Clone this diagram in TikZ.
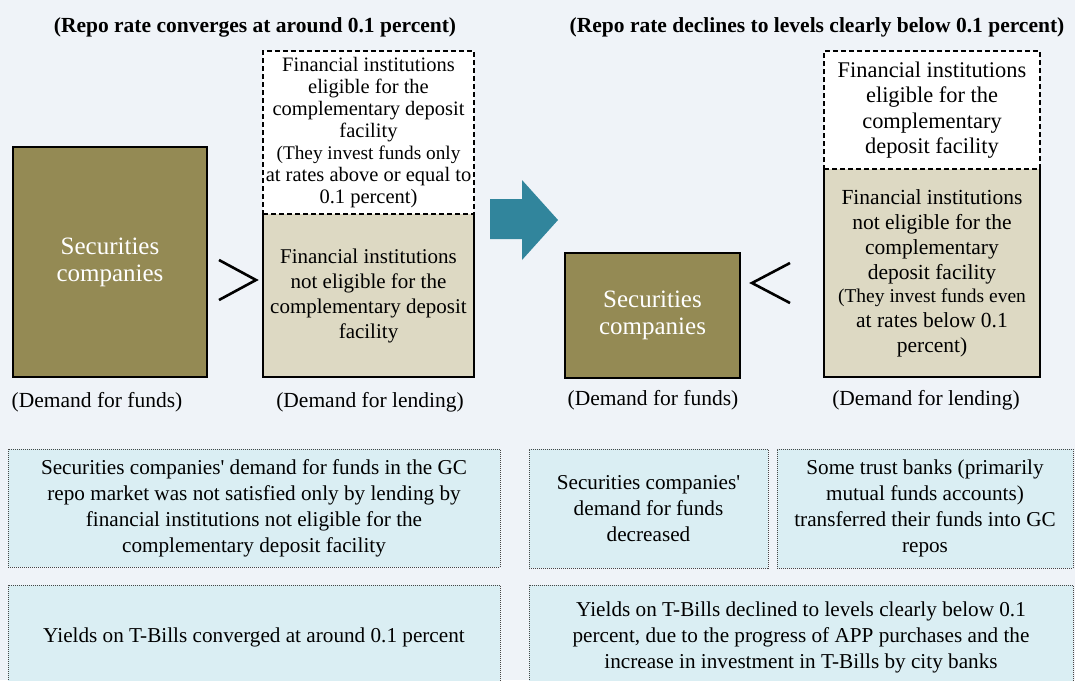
\documentclass[tikz,border=0pt]{standalone}
\usepackage{fontspec}
\setmainfont{Liberation Serif}
\definecolor{pagebg}{RGB}{239,243,248}
\definecolor{secolive}{RGB}{148,138,84}
\definecolor{lendbeige}{RGB}{221,217,195}
\definecolor{noteblue}{RGB}{218,238,243}
\definecolor{arrowteal}{RGB}{49,133,156}
\definecolor{dotgrey}{RGB}{70,70,70}
\usetikzlibrary{positioning}

\begin{document}
\begin{tikzpicture}[x=1pt, y=-1pt, line width=1.2pt, inner sep=0pt, outer sep=0pt,
    title/.style={font=\fontsize{21.5}{24}\selectfont\bfseries},
    secbox/.style={draw, fill=secolive, text=white, align=center, font=\fontsize{25}{27}\selectfont},
    lendbox/.style={fill=lendbeige, align=center, font=\fontsize{21}{25}\selectfont},
    eligbox/.style={draw, dash pattern=on 5pt off 3pt, fill=white, align=center},
    caption/.style={font=\fontsize{21.5}{24}\selectfont},
    notebox/.style={draw=dotgrey, line width=1pt, dash pattern=on 1pt off 1pt, fill=noteblue, align=center, font=\fontsize{21.2}{26}\selectfont},
    relsym/.style={line width=2.6pt}]
    \useasboundingbox (0,0) rectangle (1075,680);
    \fill[pagebg] (0,0) rectangle (1075,680);
    \clip (0,0) rectangle (1075,680);

    % left: before
    \node[title] (ltitle) at (255,27) {(Repo rate converges at around 0.1 percent)};

    \node[secbox, minimum width=194pt, minimum height=230pt] (lsec) at (110,262) {Securities\\companies};

    \node[lendbox, minimum width=211pt, minimum height=163pt] (llend) at (368.5,295.5) {Financial institutions\\not eligible  for the\\complementary deposit\\facility};
    \draw (llend.north west) -- (llend.south west) -- (llend.south east) -- (llend.north east);

    \node[eligbox, font=\fontsize{20.5}{22}\selectfont, minimum width=211pt, minimum height=163pt, above=0pt of llend] (lelig) {Financial institutions\\eligible  for the\\complementary deposit\\facility\\\fontsize{19.3}{22}\selectfont (They invest funds only\\at rates above or equal to\\0.1 percent)};

    \draw[relsym] (219,260) -- (256,280) -- (219,300);

    \node[caption] (lfunds) at (97,402) {(Demand for funds)};
    \node[caption] (llending) at (370,402) {(Demand for lending)};

    % arrow between the two cases
    \fill[arrowteal] (490,199) -- (522,199) -- (522,180) -- (558,220) -- (522,260) -- (522,239) -- (490,239) -- cycle;

    % right: after
    \node[title] (rtitle) at (817,27) {(Repo rate declines to levels clearly below 0.1 percent)};

    \node[secbox, minimum width=175pt, minimum height=125pt] (rsec) at (652.5,315.5) {Securities\\companies};

    \node[lendbox, font=\fontsize{21.5}{25}\selectfont, minimum width=216pt, minimum height=208pt] (rlend) at (932,273) {Financial institutions\\not eligible  for the\\complementary\\deposit facility\\[-2pt]\fontsize{19.5}{22}\selectfont (They invest funds even\\at rates below  0.1\\percent)};
    \draw (rlend.north west) -- (rlend.south west) -- (rlend.south east) -- (rlend.north east);

    \node[eligbox, font=\fontsize{22.4}{25.5}\selectfont, minimum width=216pt, minimum height=118pt, above=0pt of rlend] (relig) {Financial institutions\\eligible for the\\complementary\\deposit facility};

    \draw[relsym] (790,263) -- (752,283) -- (790,303);

    \node[caption] (rfunds) at (653,400) {(Demand for funds)};
    \node[caption] (rlending) at (926,400) {(Demand for lending)};

    % explanations
    \node[notebox, minimum width=492pt, minimum height=118pt] (lnote) at (254,508) {Securities companies\textquotesingle\ demand for funds in the GC\\repo market was not satisfied only by lending by\\financial institutions not eligible  for the\\complementary deposit facility};
    \node[notebox, minimum width=492pt, minimum height=104pt, below=18pt of lnote] (lyield) {Yields on T-Bills  converged at around 0.1 percent};

    \node[notebox, minimum width=239pt, minimum height=119pt] (rnote) at (648.5,508.5) {Securities companies\textquotesingle\\demand for funds\\decreased};
    \node[notebox, minimum width=296pt, minimum height=119pt, right=9pt of rnote] (rtrust) {Some trust banks (primarily\\mutual funds accounts)\\transferred their funds into GC\\repos};
    \node[notebox, minimum width=544pt, minimum height=104pt] (ryield) at (801,637) {Yields on T-Bills  declined to levels clearly below 0.1\\percent, due to the progress of APP purchases and the\\increase in investment in T-Bills  by city banks};
\end{tikzpicture}
\end{document}
